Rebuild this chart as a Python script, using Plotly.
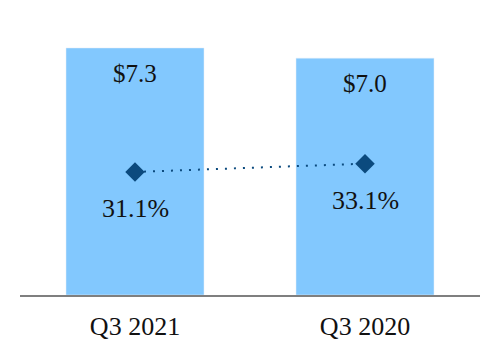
import plotly.graph_objects as go

categories = ["Q3 2021", "Q3 2020"]
revenue = [7.3, 7.0]
revenue_labels = ["$7.3", "$7.0"]
margin_pct = [31.1, 33.1]
margin_labels = ["31.1%", "33.1%"]

BAR = "#82c8fe"
DARK = "#0b4a7e"
FONT = "Liberation Serif, Times New Roman, serif"

fig = go.Figure()
fig.add_trace(go.Bar(x=categories, y=revenue, marker_color=BAR, width=0.6,
                     hoverinfo="skip"))
fig.add_trace(go.Scatter(x=categories, y=margin_pct, yaxis="y2", mode="lines+markers",
                         line=dict(color=DARK, width=2, dash="2px,7px"),
                         marker=dict(symbol="diamond", size=15, color=DARK),
                         hoverinfo="skip"))

annotations = []
for c, v, t in zip(categories, revenue, revenue_labels):
    annotations.append(dict(x=c, y=v, xref="x", yref="y", text=t, showarrow=False,
                            yanchor="top", yshift=-10,
                            font=dict(family=FONT, size=25, color="#111111")))
for c, v, t in zip(categories, margin_pct, margin_labels):
    annotations.append(dict(x=c, y=v, xref="x", yref="y2", text=t, showarrow=False,
                            yanchor="middle", yshift=-37,
                            font=dict(family=FONT, size=26, color="#111111")))

fig.update_layout(
    width=500, height=360,
    margin=dict(l=12, r=28, t=12, b=73),
    paper_bgcolor="white", plot_bgcolor="white",
    showlegend=False,
    font=dict(family=FONT, color="#111111"),
    xaxis=dict(showline=True, linecolor="#7f7f7f", linewidth=1.5, ticks="",
               showgrid=False, tickfont=dict(family=FONT, size=26, color="#111111"),
               ticklabelstandoff=7, range=[-0.5, 1.5]),
    yaxis=dict(range=[0, 8.127], visible=False, showgrid=False, zeroline=False),
    yaxis2=dict(range=[1.46, 67.7], overlaying="y", visible=False, showgrid=False,
                zeroline=False),
    annotations=annotations,
)

fig.write_html("out.html")
